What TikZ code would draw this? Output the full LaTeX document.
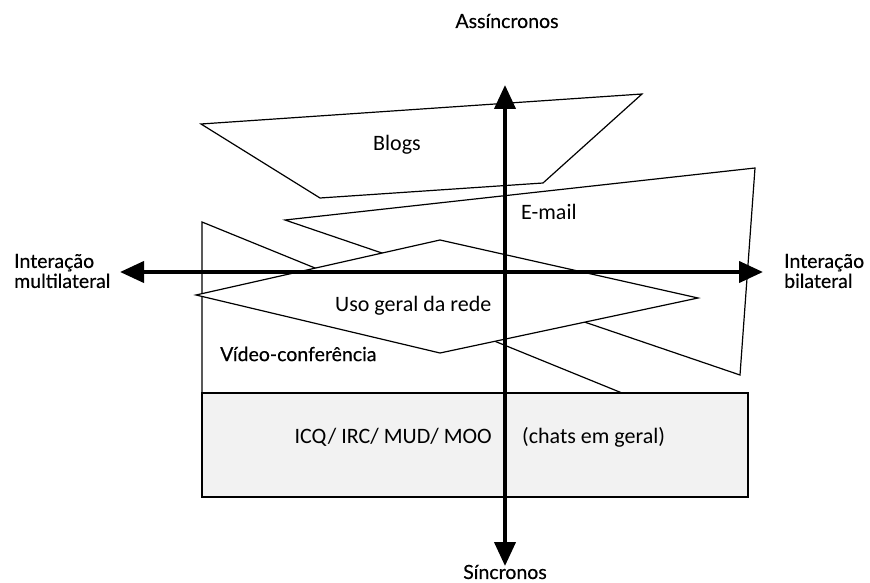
\documentclass[tikz,border=0pt]{standalone}
\usepackage{fontspec}
\setmainfont{Carlito}
\newfontfamily\outerfont[FakeBold=0.4]{Lato}
\usetikzlibrary{arrows.meta}
\begin{document}
\begin{tikzpicture}[x=1pt,y=-1pt]
 \tikzstyle{region} = [draw, line width=1.2pt];
 \tikzstyle{axis} = [line width=4pt, {Triangle[length=24pt,width=21pt]}-{Triangle[length=24pt,width=21pt]}];
 \tikzstyle{txt} = [font=\fontsize{22}{24}\selectfont, inner sep=0pt];
 \tikzstyle{outer} = [font=\outerfont\fontsize{19.5}{20}\selectfont, inner sep=0pt];
 \useasboundingbox (0,0) rectangle (870,583);

\draw [region] (285,220) -- (755,168) -- (740,375) -- cycle;
\draw [region] (202,222) -- (622,393) -- (202,393) -- cycle;
\draw [region, fill=white] (196,295) -- (440,240) -- (698,298) -- (440,353) -- cycle;
\draw [region] (201,124) -- (642,94) -- (543,183) -- (320,198) -- cycle;
\draw [region, fill=black!5] (202,393) rectangle (748,497);

\node [txt] (v1) at (397,145) {Blogs};
\node [txt, anchor=west] (v2) at (521,212) {E-mail};
\node [txt, anchor=west] (v3) at (335,306) {Uso geral da rede};
\node [outer, anchor=west] (v4) at (220,354) {Vídeo-conferência};
\node [txt, anchor=east] (v5) at (492,437) {ICQ/ IRC/ MUD/ MOO};
\node [txt, anchor=west] (v6) at (522,437) {(chats em geral)};

\node [outer] (v7) at (507,21) {Assíncronos};
\node [outer] (v8) at (505,572) {Síncronos};
\node [outer, align=left, anchor=west] (v9) at (14,271) {Interação\\multilateral};
\node [outer, align=left, anchor=west] (v10) at (784,271) {Interação\\bilateral};

\coordinate (n) at (505,85);
\coordinate (s) at (505,566);
\coordinate (w) at (120,272);
\coordinate (e) at (763,272);
\draw [axis] (n) -- (s);
\draw [axis] (w) -- (e);

\end{tikzpicture}
\end{document}
